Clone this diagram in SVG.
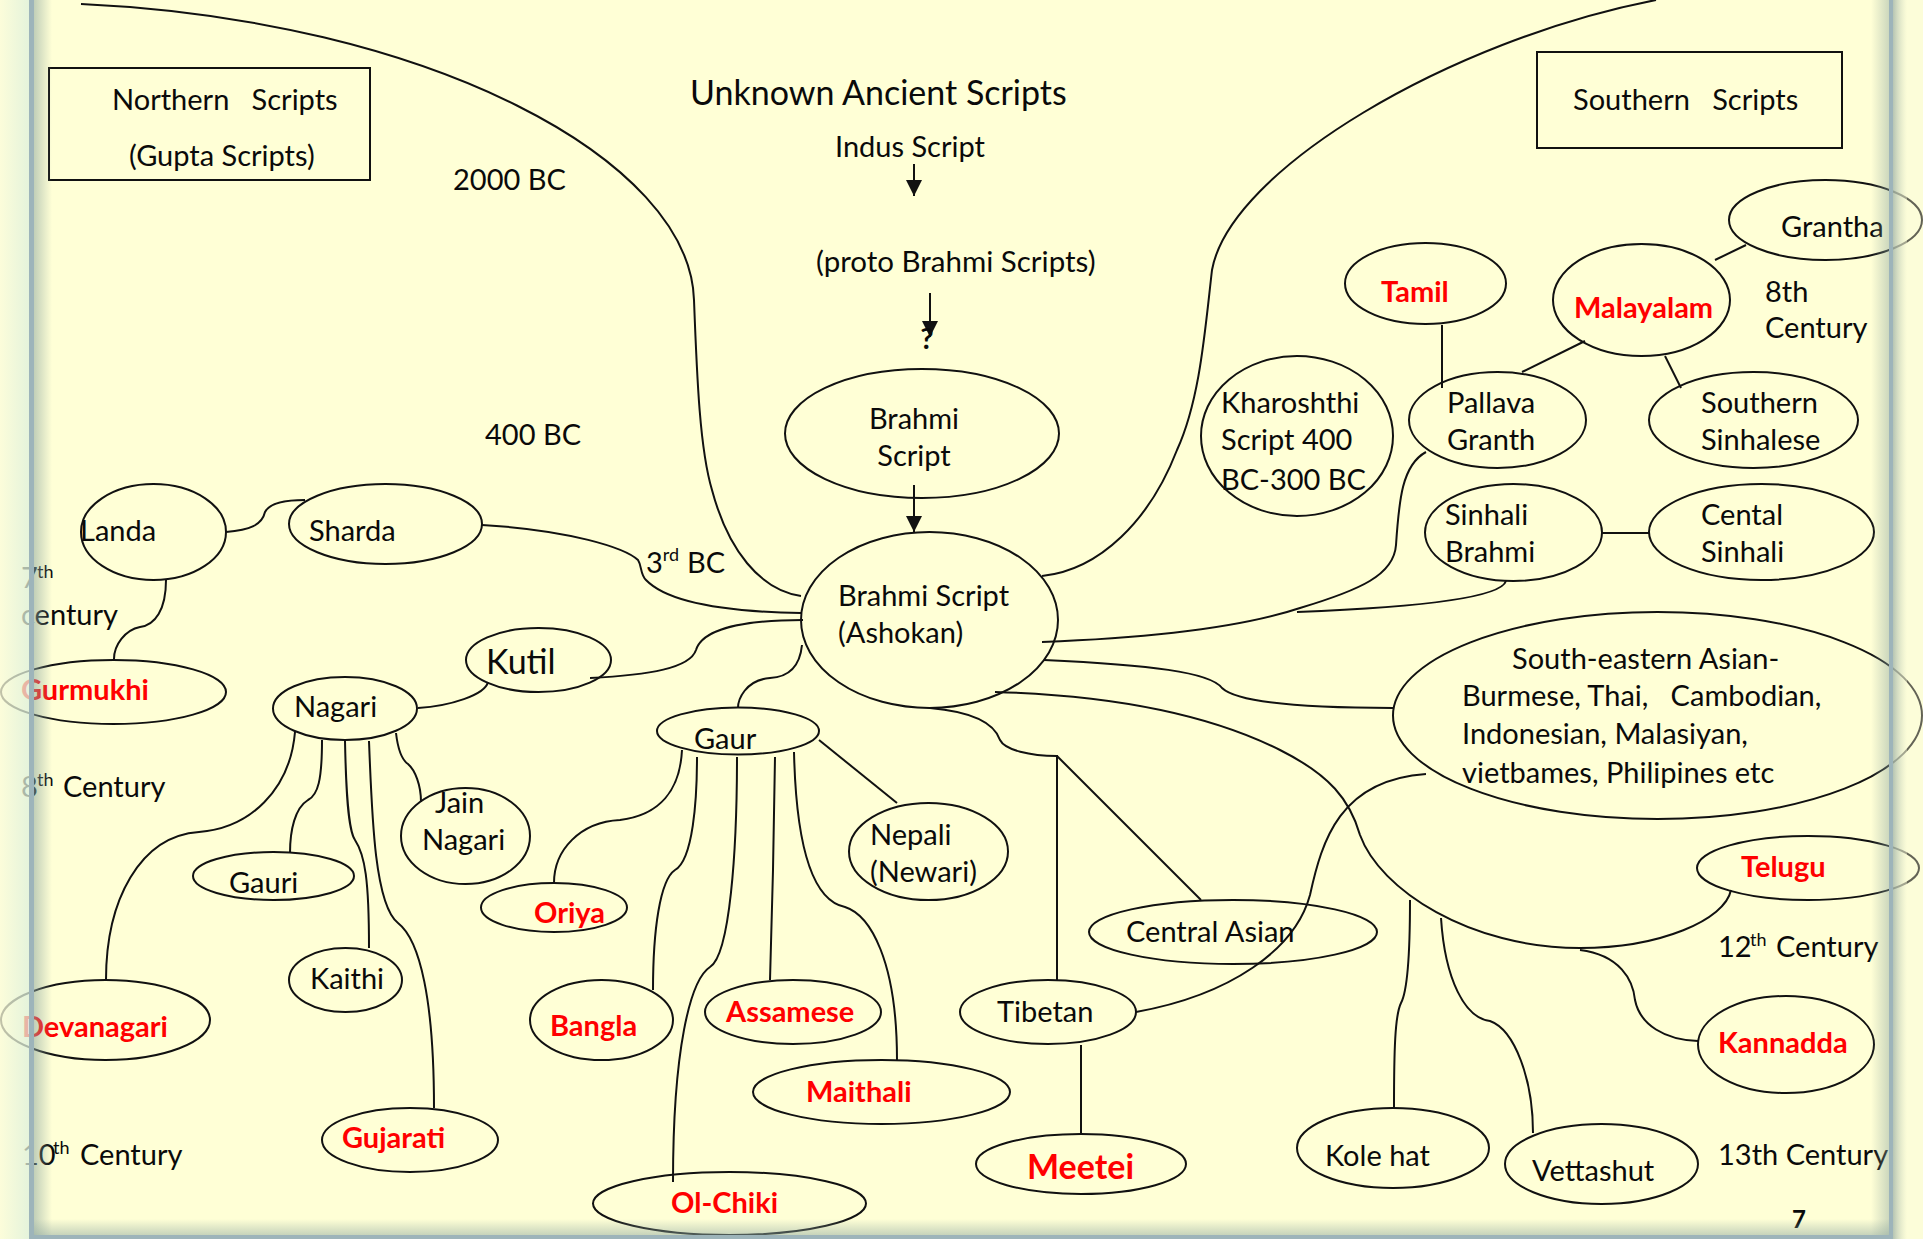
<svg xmlns="http://www.w3.org/2000/svg" width="1923" height="1239" viewBox="0 0 1923 1239">
<defs>
<style>
text{font-family:Lato,"Open Sans","Liberation Sans",sans-serif;font-size:29px;fill:#0a0a0a;}
.r{fill:#F00;font-weight:bold;}
.b{font-size:34px;}
.sup{font-size:18px;}
.n ellipse,.n rect{fill:none;stroke:#111;stroke-width:2;}
#connectors path{fill:none;stroke:#111;stroke-width:2;}
</style>
<marker id="ah" viewBox="0 0 16 16" refX="16" refY="8" markerWidth="16" markerHeight="16" markerUnits="userSpaceOnUse" orient="auto"><path d="M0,0 L16,8 L0,16 z" fill="#111"/></marker>
<linearGradient id="gl" x1="0" x2="1" y1="0" y2="0"><stop offset="0" stop-color="#8FA8A0" stop-opacity="0.55"/><stop offset="1" stop-color="#8FA8A0" stop-opacity="0"/></linearGradient>
<linearGradient id="gr" x1="1" x2="0" y1="0" y2="0"><stop offset="0" stop-color="#8FA8A0" stop-opacity="0.45"/><stop offset="1" stop-color="#8FA8A0" stop-opacity="0"/></linearGradient>
<linearGradient id="gb" x1="0" x2="0" y1="1" y2="0"><stop offset="0" stop-color="#8FA8A0" stop-opacity="0.5"/><stop offset="1" stop-color="#8FA8A0" stop-opacity="0"/></linearGradient>
<linearGradient id="go" x1="1" x2="0" y1="0" y2="0"><stop offset="0" stop-color="#DDF0DC"/><stop offset="1" stop-color="#FCFDDA"/></linearGradient>
<linearGradient id="go2" x1="0" x2="1" y1="0" y2="0"><stop offset="0" stop-color="#9FB2A6" stop-opacity="0.75"/><stop offset="1" stop-color="#FCFDD8" stop-opacity="0.4"/></linearGradient>
</defs>
<rect x="0" y="0" width="1923" height="1239" fill="#FCFDDA"/>
<rect x="33" y="0" width="1856" height="1235" fill="#FFFFD6"/>

<g id="connectors">
<path d="M81,4 C430,20 690,160 694,300 C697,380 700,450 712,490 C728,550 760,590 801,596"/>
<path d="M1656,0 C1450,40 1230,170 1212,270 C1205,330 1200,400 1177,450 C1150,520 1100,570 1042,576"/>
<path d="M914,164 L914,196" marker-end="url(#ah)"/>
<path d="M930,293 L930,337" marker-end="url(#ah)"/>
<path d="M914,485 L914,532" marker-end="url(#ah)"/>
<path d="M482,525 C570,530 625,548 638,560 C642,566 640,574 646,580 C670,605 740,612 801,613"/>
<path d="M590,678 C650,675 690,668 696,650 C702,630 740,620 803,620"/>
<path d="M802,645 C800,665 790,677 770,678 C745,680 738,700 738,708"/>
<path d="M819,740 L897,803"/>
<path d="M930,708 C975,712 995,725 1000,740 C1005,750 1030,756 1057,756 L1057,980"/>
<path d="M1057,756 L1201,900"/>
<path d="M1081,1045 L1081,1134"/>
<path d="M1136,1012 C1230,995 1295,950 1310,895 C1322,840 1340,780 1426,774"/>
<path d="M995,692 C1100,695 1200,710 1280,750 C1330,775 1350,800 1360,835 C1380,890 1470,948 1580,948 C1660,948 1725,920 1731,890"/>
<path d="M1580,950 C1620,955 1633,980 1635,1000 C1640,1025 1665,1040 1698,1041"/>
<path d="M1410,900 C1410,950 1408,990 1401,1003 C1395,1015 1394,1050 1394,1108"/>
<path d="M1441,918 C1445,980 1465,1018 1490,1021 C1515,1030 1533,1080 1533,1133"/>
<path d="M1044,660 C1150,665 1210,672 1222,688 C1240,705 1330,708 1393,708"/>
<path d="M1042,642 C1150,638 1240,628 1300,608 C1360,590 1394,575 1396,545 C1399,500 1402,465 1426,452"/>
<path d="M1297,612 C1400,608 1500,600 1506,581"/>
<path d="M1602,533 L1649,533"/>
<path d="M1442,325 L1442,388"/>
<path d="M1585,341 L1522,372"/>
<path d="M1665,356 L1681,388"/>
<path d="M1715,260 L1746,245"/>
<path d="M226,532 C250,530 262,525 265,512 C270,502 290,500 305,500"/>
<path d="M166,580 C166,610 155,625 140,627 C125,630 114,645 114,659"/>
<path d="M418,708 C450,706 485,695 488,682"/>
<path d="M295,732 C290,790 250,828 199,832 C140,836 106,900 106,980"/>
<path d="M322,740 C322,780 318,795 308,800 C295,808 290,830 290,853"/>
<path d="M345,741 C346,790 348,830 355,840 C365,855 369,880 369,948"/>
<path d="M369,741 C372,820 375,905 398,923 C420,940 434,1000 434,1108"/>
<path d="M396,733 C398,750 402,760 408,764 C415,770 421,785 421,802"/>
<path d="M682,750 C680,790 660,815 620,820 C580,822 554,850 554,883"/>
<path d="M697,757 C697,800 693,860 675,870 C660,880 653,930 653,990"/>
<path d="M737,757 C737,850 730,955 710,967 C690,980 673,1050 673,1182"/>
<path d="M775,757 L773,870 L770,980"/>
<path d="M794,752 C796,840 810,900 845,907 C870,915 897,960 897,1060"/>
</g>

<g id="labels">
<text x="690" y="105" style="font-size:34px">Unknown Ancient Scripts</text>
<text x="835" y="157">Indus Script</text>
<text x="816" y="272" style="font-size:29.5px">(proto Brahmi Scripts)</text>
<text x="927" y="349" text-anchor="middle" style="font-weight:bold">?</text>
<text x="453" y="190">2000 BC</text>
<text x="485" y="445">400 BC</text>
<text x="646" y="573">3<tspan class="sup" dy="-12">rd</tspan><tspan x="687" y="573">BC</tspan></text>
<text x="21" y="588">7<tspan class="sup" x="37" y="578">th</tspan></text>
<text x="21" y="625">century</text>
<text x="21" y="797">8<tspan class="sup" x="37" y="786">th</tspan><tspan x="63" y="797">Century</tspan></text>
<text x="22" y="1165">10<tspan class="sup" x="53" y="1154">th</tspan><tspan x="80" y="1165">Century</tspan></text>
<text x="1765" y="302">8th</text>
<text x="1765" y="338">Century</text>
<text x="1718" y="957">12<tspan class="sup" x="1750" y="946">th</tspan><tspan x="1776" y="957">Century</tspan></text>
<text x="1718" y="1165">13th Century</text>
<text x="1792" y="1228" style="font-weight:bold;font-size:24px">7</text>
</g>

<g id="northern" class="n"><rect x="49" y="68" width="321" height="112"/><text x="112" y="110" xml:space="preserve">Northern   Scripts</text><text x="129" y="166">(Gupta Scripts)</text></g>
<g id="southern" class="n"><rect x="1537" y="52" width="305" height="96"/><text x="1573" y="110" xml:space="preserve">Southern   Scripts</text></g>

<g id="brahmi" class="n"><ellipse cx="922" cy="433.5" rx="137" ry="64.5"/><text x="914" y="429" text-anchor="middle">Brahmi</text><text x="914" y="466" text-anchor="middle">Script</text></g>
<g id="ashokan" class="n"><ellipse cx="929.5" cy="620" rx="128.5" ry="88"/><text x="838" y="606">Brahmi Script</text><text x="838" y="643">(Ashokan)</text></g>
<g id="kharoshthi" class="n"><ellipse cx="1297" cy="436" rx="96" ry="80"/><text x="1221" y="413">Kharoshthi</text><text x="1221" y="450">Script 400</text><text x="1221" y="490">BC-300 BC</text></g>
<g id="tamil" class="n"><ellipse cx="1425.5" cy="283.5" rx="80.5" ry="40.5"/><text class="r" x="1381" y="302">Tamil</text></g>
<g id="malayalam" class="n"><ellipse cx="1641.5" cy="300" rx="88.5" ry="56"/><text class="r" x="1574" y="318">Malayalam</text></g>
<g id="grantha" class="n"><ellipse cx="1825.5" cy="220" rx="96.5" ry="40"/><text x="1781" y="237">Grantha</text></g>
<g id="pallava" class="n"><ellipse cx="1497.5" cy="420" rx="88.5" ry="48"/><text x="1447" y="413">Pallava</text><text x="1447" y="450">Granth</text></g>
<g id="ssinhalese" class="n"><ellipse cx="1753.5" cy="420" rx="104.5" ry="48"/><text x="1701" y="413">Southern</text><text x="1701" y="450">Sinhalese</text></g>
<g id="sinhali" class="n"><ellipse cx="1513.5" cy="532.5" rx="88.5" ry="48.5"/><text x="1445" y="525">Sinhali</text><text x="1445" y="562">Brahmi</text></g>
<g id="cental" class="n"><ellipse cx="1761.5" cy="532" rx="112.5" ry="48"/><text x="1701" y="525">Cental</text><text x="1701" y="562">Sinhali</text></g>
<g id="seasia" class="n"><ellipse cx="1657.5" cy="715.5" rx="264.5" ry="103.5"/><text x="1512" y="669">South-eastern Asian-</text><text x="1462" y="706" xml:space="preserve">Burmese, Thai,   Cambodian,</text><text x="1462" y="744">Indonesian, Malasiyan,</text><text x="1462" y="783">vietbames, Philipines etc</text></g>
<g id="telugu" class="n"><ellipse cx="1808" cy="868" rx="111" ry="32"/><text class="r" x="1741" y="877">Telugu</text></g>
<g id="kannadda" class="n"><ellipse cx="1786" cy="1044.5" rx="88" ry="48.5"/><text class="r" x="1718" y="1053">Kannadda</text></g>
<g id="kolehat" class="n"><ellipse cx="1393" cy="1148" rx="96" ry="40"/><text x="1325" y="1166">Kole hat</text></g>
<g id="vettashut" class="n"><ellipse cx="1601.5" cy="1164" rx="96.5" ry="40"/><text x="1532" y="1181">Vettashut</text></g>
<g id="centralasian" class="n"><ellipse cx="1233" cy="932" rx="144" ry="32"/><text x="1126" y="942">Central Asian</text></g>
<g id="tibetan" class="n"><ellipse cx="1048" cy="1012" rx="88" ry="32"/><text x="997" y="1022">Tibetan</text></g>
<g id="meetei" class="n"><ellipse cx="1081" cy="1164" rx="105" ry="30"/><text class="r b" x="1027" y="1179">Meetei</text></g>
<g id="nepali" class="n"><ellipse cx="928.5" cy="851.5" rx="79.5" ry="48.5"/><text x="870" y="845">Nepali</text><text x="870" y="882">(Newari)</text></g>
<g id="gaur" class="n"><ellipse cx="738" cy="731" rx="81" ry="23.5"/><text x="694" y="749">Gaur</text></g>
<g id="oriya" class="n"><ellipse cx="554" cy="907.5" rx="73" ry="24.5"/><text class="r" x="534" y="923">Oriya</text></g>
<g id="bangla" class="n"><ellipse cx="601.5" cy="1020" rx="71.5" ry="40"/><text class="r" x="550" y="1036">Bangla</text></g>
<g id="assamese" class="n"><ellipse cx="793" cy="1012" rx="88" ry="32"/><text class="r" x="726" y="1022">Assamese</text></g>
<g id="maithali" class="n"><ellipse cx="881.5" cy="1092" rx="128.5" ry="32"/><text class="r" x="806" y="1102">Maithali</text></g>
<g id="olchiki" class="n"><ellipse cx="729.5" cy="1203.5" rx="136.5" ry="31.5"/><text class="r" x="671" y="1213">Ol-Chiki</text></g>
<g id="landa" class="n"><ellipse cx="153.5" cy="532" rx="72.5" ry="48"/><text x="80" y="541">Landa</text></g>
<g id="sharda" class="n"><ellipse cx="385.5" cy="524" rx="96.5" ry="40"/><text x="309" y="541">Sharda</text></g>
<g id="gurmukhi" class="n"><ellipse cx="113.5" cy="692" rx="112.5" ry="32"/><text class="r" x="21" y="700">Gurmukhi</text></g>
<g id="kutil" class="n"><ellipse cx="538.5" cy="660" rx="72.5" ry="32"/><text class="b" x="486" y="674">Kutil</text></g>
<g id="nagari" class="n"><ellipse cx="345" cy="708.5" rx="72" ry="31.5"/><text x="294" y="717">Nagari</text></g>
<g id="jainnagari" class="n"><ellipse cx="465.5" cy="836" rx="64.5" ry="48"/><text x="435" y="813">Jain</text><text x="422" y="850">Nagari</text></g>
<g id="gauri" class="n"><ellipse cx="273.5" cy="876" rx="80.5" ry="24"/><text x="229" y="893">Gauri</text></g>
<g id="kaithi" class="n"><ellipse cx="345.5" cy="980" rx="56.5" ry="32"/><text x="310" y="989">Kaithi</text></g>
<g id="devanagari" class="n"><ellipse cx="105.5" cy="1020" rx="104.5" ry="40"/><text class="r" x="22" y="1037">Devanagari</text></g>
<g id="gujarati" class="n"><ellipse cx="410" cy="1140" rx="88" ry="32"/><text class="r" x="342" y="1148">Gujarati</text></g>

<g id="frame">
<rect x="0" y="0" width="29" height="1239" fill="url(#go)" opacity="0.75"/>
<rect x="34" y="0" width="18" height="1235" fill="url(#gl)"/>
<rect x="1871" y="0" width="18" height="1235" fill="url(#gr)"/>
<rect x="34" y="1219" width="1855" height="16" fill="url(#gb)"/>
<rect x="1893" y="0" width="30" height="1239" fill="#FCFDD8" opacity="0.35"/>
<rect x="1893" y="0" width="14" height="1239" fill="url(#go2)"/>
<rect x="29" y="0" width="5" height="1239" fill="#9DB4BA"/>
<rect x="1889" y="0" width="4" height="1239" fill="#9DB4BA"/>
<rect x="29" y="1235" width="1864" height="4" fill="#9DB4BA"/>
</g>
</svg>
